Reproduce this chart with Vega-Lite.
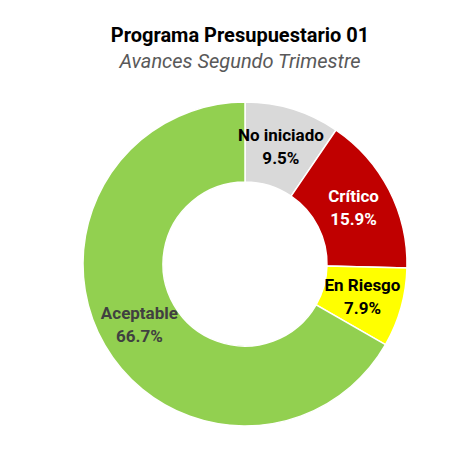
{
  "$schema": "https://vega.github.io/schema/vega-lite/v6.json",
  "width": 442,
  "height": 368,
  "autosize": "none",
  "padding": {"left": 24, "top": 80, "right": 0, "bottom": 2},
  "background": "white",
  "config": {"view": {"stroke": null}},
  "title": {
    "text": "Programa Presupuestario 01",
    "subtitle": "Avances Segundo Trimestre",
    "anchor": "middle",
    "dx": -5,
    "offset": 8,
    "font": "Roboto",
    "fontSize": 20,
    "fontWeight": "bold",
    "color": "#000000",
    "subtitleFont": "Roboto",
    "subtitleFontSize": 20,
    "subtitleFontStyle": "italic",
    "subtitleColor": "#595959",
    "subtitlePadding": 6
  },
  "data": {
    "values": [
      {"categoria": "No iniciado", "pct": 0.095, "orden": 1},
      {"categoria": "Crítico", "pct": 0.159, "orden": 2},
      {"categoria": "En Riesgo", "pct": 0.079, "orden": 3},
      {"categoria": "Aceptable", "pct": 0.667, "orden": 4}
    ]
  },
  "encoding": {
    "theta": {"field": "pct", "type": "quantitative", "stack": true},
    "order": {"field": "orden", "type": "quantitative"}
  },
  "layer": [
    {
      "mark": {"type": "arc", "outerRadius": 162, "innerRadius": 82, "stroke": "white", "strokeWidth": 1.5},
      "encoding": {
        "color": {
          "field": "categoria",
          "type": "nominal",
          "scale": {"domain": ["No iniciado", "Crítico", "En Riesgo", "Aceptable"], "range": ["#D9D9D9", "#C00000", "#FFFF00", "#92D050"]},
          "legend": null
        }
      }
    },
    {
      "mark": {"type": "text", "radius": 122, "dy": -11, "font": "Roboto", "fontSize": 17, "fontWeight": "bold"},
      "encoding": {
        "text": {"field": "categoria", "type": "nominal"},
        "color": {
          "field": "categoria",
          "type": "nominal",
          "scale": {"domain": ["No iniciado", "Crítico", "En Riesgo", "Aceptable"], "range": ["#000000", "#FFFFFF", "#000000", "#404040"]},
          "legend": null
        }
      }
    },
    {
      "mark": {"type": "text", "radius": 122, "dy": 12, "font": "Roboto", "fontSize": 17, "fontWeight": "bold"},
      "encoding": {
        "text": {"field": "pct", "type": "quantitative", "format": ".1%"},
        "color": {
          "field": "categoria",
          "type": "nominal",
          "scale": {"domain": ["No iniciado", "Crítico", "En Riesgo", "Aceptable"], "range": ["#000000", "#FFFFFF", "#000000", "#404040"]},
          "legend": null
        }
      }
    }
  ],
  "resolve": {"scale": {"color": "independent"}}
}
